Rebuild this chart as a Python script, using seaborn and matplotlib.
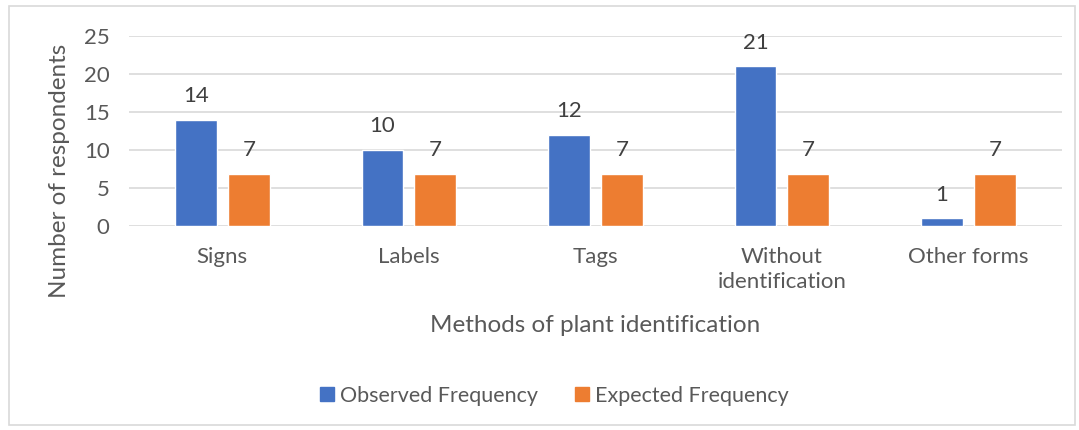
import matplotlib
matplotlib.use("Agg")
import matplotlib.pyplot as plt
from matplotlib.patches import Rectangle
import seaborn as sns
import pandas as pd

# Chart data
methods = ["Signs", "Labels", "Tags", "Without\nidentification", "Other forms"]
observed = [14, 10, 12, 21, 1]
expected = [6.8, 6.8, 6.8, 6.8, 6.8]
series_names = ["Observed Frequency", "Expected Frequency"]
y_ticks = [0, 5, 10, 15, 20, 25]

df = pd.DataFrame({
    "method": methods * 2,
    "value": observed + expected,
    "series": [series_names[0]] * len(methods) + [series_names[1]] * len(methods),
})

sns.set_theme(style="white")
plt.rcParams["font.family"] = ["Lato", "DejaVu Sans"]
text_color = "#595959"
grid_color = "#d9d9d9"

fig = plt.figure(figsize=(10.79, 4.30), dpi=100)
ax = fig.add_axes([0.1196, 0.4744, 0.8644, 0.4419])

sns.barplot(
    data=df, x="method", y="value", hue="series",
    palette=["#4472C4", "#ED7D31"], width=0.567, gap=0.21,
    order=methods, hue_order=series_names, ax=ax, legend=False,
    saturation=1,
)

for cont in ax.containers:
    ax.bar_label(cont, fmt="{:.0f}", padding=10, fontsize=16, color="#404040")

ax.set_ylim(0, 25)
ax.set_yticks(y_ticks)
ax.set_xlim(-0.5, len(methods) - 0.5)
ax.grid(axis="y", color=grid_color, linewidth=1.2)
ax.set_axisbelow(True)
for s in ax.spines.values():
    s.set_visible(False)
ax.tick_params(axis="both", length=0, labelsize=16, colors=text_color)
ax.tick_params(axis="x", pad=15)
ax.tick_params(axis="y", pad=14)
for lbl in ax.get_xticklabels():
    lbl.set_linespacing(1.35)
ax.set_xlabel("Methods of plant identification", fontsize=17.5, color=text_color, labelpad=16)
ax.set_ylabel("Number of respondents", fontsize=17.5, color=text_color)
ax.yaxis.set_label_coords(-0.063, 0.29)

# Legend with square markers
handles = [Rectangle((0, 0), 1, 1, color=c) for c in ["#4472C4", "#ED7D31"]]
fig.legend(handles, series_names, loc="center", bbox_to_anchor=(0.514, 0.08),
           ncol=2, frameon=False, fontsize=15.5, handlelength=0.65, handleheight=0.65,
           handletextpad=0.3, columnspacing=1.7, labelcolor=text_color)

# Outer chart frame
fig.patches.append(Rectangle((0.008, 0.012), 0.988, 0.973, transform=fig.transFigure,
                             fill=False, edgecolor=grid_color, linewidth=1.2))

fig.savefig("out.png", dpi=100)
